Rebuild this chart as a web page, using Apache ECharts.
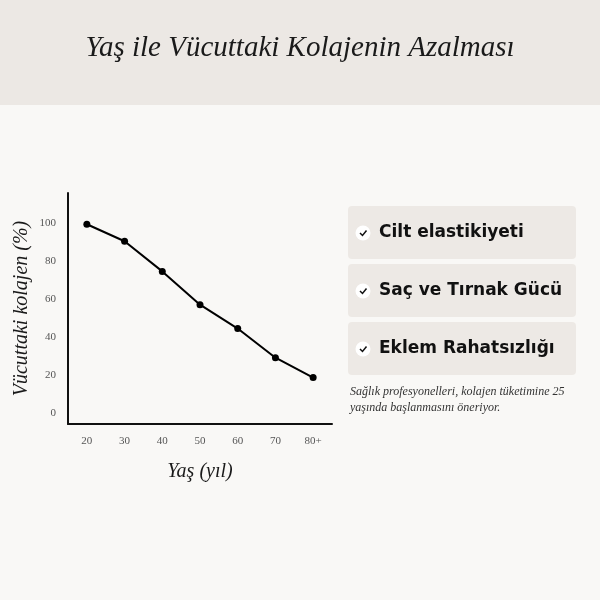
<!DOCTYPE html>
<html>
<head>
<meta charset="utf-8">
<script src="https://cdn.jsdelivr.net/npm/echarts@6/dist/echarts.min.js"></script>
<style>html,body{margin:0;padding:0;background:#f9f8f6}#main{width:600px;height:600px}</style>
</head>
<body>
<div id="main"></div>
<script>
var ages = ['20', '30', '40', '50', '60', '70', '80+'];
var collagen = [99.5, 90.5, 74.6, 57, 44.4, 29, 18.5];
var yTicks = [0, 20, 40, 60, 80, 100];
var benefits = ['Cilt elastikiyeti', 'Saç ve Tırnak Gücü', 'Eklem Rahatsızlığı'];

var ch = echarts.init(document.getElementById('main'));
var serif = '"Liberation Serif", "DejaVu Serif", serif';

var gfx = [
  { type: 'rect', shape: { x: 0, y: 0, width: 600, height: 105 }, style: { fill: '#ece8e4' }, z: 0 },
  { type: 'text', x: 300, y: 48, style: { text: 'Yaş ile Vücuttaki Kolajenin Azalması', font: 'italic 29px ' + serif, fill: '#1a1a1a', textAlign: 'center', textVerticalAlign: 'middle' } },
  { type: 'text', x: 350, y: 392, style: { text: 'Sağlık profesyonelleri, kolajen tüketimine 25', font: 'italic 12px ' + serif, fill: '#333', textVerticalAlign: 'middle' } },
  { type: 'text', x: 350, y: 408, style: { text: 'yaşında başlanmasını öneriyor.', font: 'italic 12px ' + serif, fill: '#333', textVerticalAlign: 'middle' } }
];
benefits.forEach(function (b, i) {
  var top = 206 + i * 58;
  gfx.push({ type: 'rect', shape: { x: 348, y: top, width: 228, height: 53, r: 4 }, style: { fill: '#ede9e5' } });
  gfx.push({ type: 'circle', shape: { cx: 363, cy: top + 27, r: 7.5 }, style: { fill: '#fff' } });
  gfx.push({ type: 'polyline', shape: { points: [[360, top + 27], [362.5, top + 29.5], [366.5, top + 24.5]] }, style: { stroke: '#111', lineWidth: 1.5, fill: null } });
  gfx.push({ type: 'text', x: 379, y: top + 27, style: { text: b, font: 'bold 17px "DejaVu Sans", Lato, sans-serif', fill: '#111', textVerticalAlign: 'middle' } });
});

var option = {
  backgroundColor: '#f9f8f6',
  animation: false,
  graphic: gfx,
  grid: { left: 68, top: 193, width: 264, height: 231 },
  xAxis: {
    type: 'category',
    data: ages,
    name: 'Yaş (yıl)',
    nameLocation: 'middle',
    nameGap: 38,
    nameTextStyle: { fontFamily: serif, fontStyle: 'italic', fontSize: 20, color: '#1a1a1a' },
    axisLine: { onZero: false, lineStyle: { color: '#111', width: 2 } },
    axisTick: { show: false },
    axisLabel: { fontFamily: serif, fontSize: 11, color: '#555', margin: 12 }
  },
  yAxis: {
    type: 'value',
    min: -6,
    max: 116,
    interval: 2,
    name: 'Vücuttaki kolajen (%)',
    nameLocation: 'middle',
    nameGap: 36,
    nameTextStyle: { fontFamily: serif, fontStyle: 'italic', fontSize: 20, color: '#1a1a1a' },
    axisLine: { show: true, onZero: false, lineStyle: { color: '#111', width: 2 } },
    axisTick: { show: false },
    splitLine: { show: false },
    axisLabel: {
      fontFamily: serif, fontSize: 11, color: '#555', margin: 12,
      formatter: function (v) { return yTicks.indexOf(v) >= 0 ? String(v) : ''; }
    }
  },
  series: [{
    type: 'line',
    data: collagen,
    symbol: 'circle',
    symbolSize: 7,
    itemStyle: { color: '#000' },
    lineStyle: { color: '#000', width: 2 }
  }]
};
ch.setOption(option);
</script>
</body>
</html>
